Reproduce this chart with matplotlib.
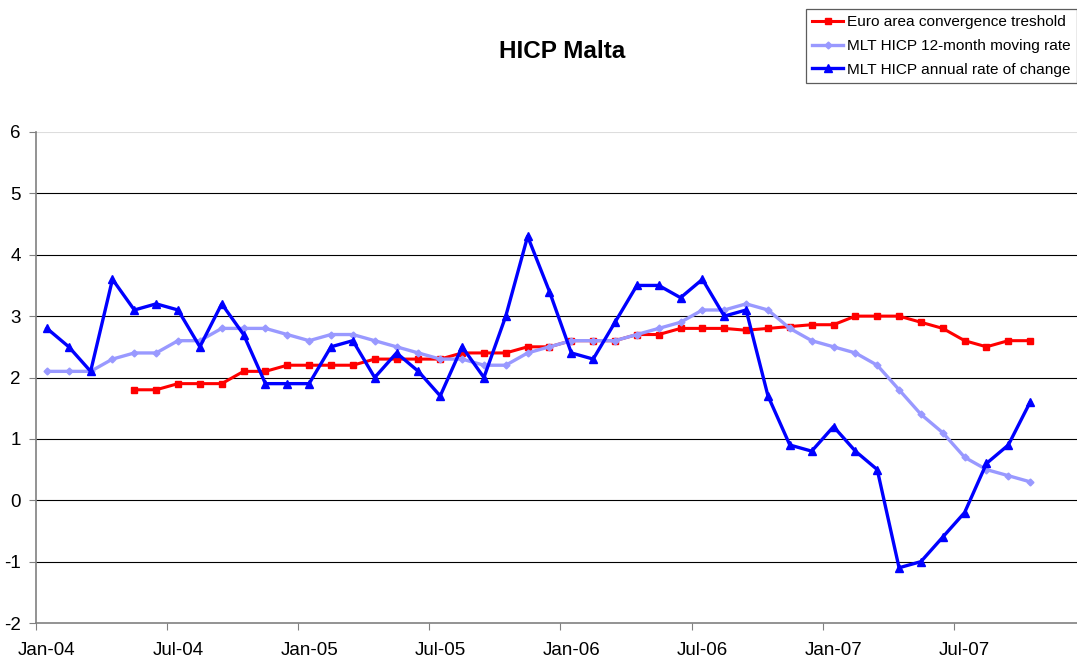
import matplotlib
matplotlib.use("Agg")
import matplotlib.pyplot as plt
import numpy as np

plt.rcParams['font.family'] = ['Liberation Sans', 'DejaVu Sans']

# Monthly data Jan-04 .. Oct-07 (46 months)
months = ["Jan-04", "Feb-04", "Mar-04", "Apr-04", "May-04", "Jun-04", "Jul-04", "Aug-04", "Sep-04", "Oct-04", "Nov-04", "Dec-04",
          "Jan-05", "Feb-05", "Mar-05", "Apr-05", "May-05", "Jun-05", "Jul-05", "Aug-05", "Sep-05", "Oct-05", "Nov-05", "Dec-05",
          "Jan-06", "Feb-06", "Mar-06", "Apr-06", "May-06", "Jun-06", "Jul-06", "Aug-06", "Sep-06", "Oct-06", "Nov-06", "Dec-06",
          "Jan-07", "Feb-07", "Mar-07", "Apr-07", "May-07", "Jun-07", "Jul-07", "Aug-07", "Sep-07", "Oct-07"]

threshold = [None, None, None, None, 1.8, 1.8, 1.9, 1.9, 1.9, 2.1, 2.1, 2.2,
             2.2, 2.2, 2.2, 2.3, 2.3, 2.3, 2.3, 2.4, 2.4, 2.4, 2.5, 2.5,
             2.6, 2.6, 2.6, 2.7, 2.7, 2.8, 2.8, 2.8, 2.77, 2.8, 2.83, 2.86,
             2.86, 3.0, 3.0, 3.0, 2.9, 2.8, 2.6, 2.5, 2.6, 2.6]

moving_rate = [2.1, 2.1, 2.1, 2.3, 2.4, 2.4, 2.6, 2.6, 2.8, 2.8, 2.8, 2.7,
               2.6, 2.7, 2.7, 2.6, 2.5, 2.4, 2.3, 2.3, 2.2, 2.2, 2.4, 2.5,
               2.6, 2.6, 2.6, 2.7, 2.8, 2.9, 3.1, 3.1, 3.2, 3.1, 2.8, 2.6,
               2.5, 2.4, 2.2, 1.8, 1.4, 1.1, 0.7, 0.5, 0.4, 0.3]

annual_rate = [2.8, 2.5, 2.1, 3.6, 3.1, 3.2, 3.1, 2.5, 3.2, 2.7, 1.9, 1.9,
               1.9, 2.5, 2.6, 2.0, 2.4, 2.1, 1.7, 2.5, 2.0, 3.0, 4.3, 3.4,
               2.4, 2.3, 2.9, 3.5, 3.5, 3.3, 3.6, 3.0, 3.1, 1.7, 0.9, 0.8,
               1.2, 0.8, 0.5, -1.1, -1.0, -0.6, -0.2, 0.6, 0.9, 1.6]

tick_labels = ["Jan-04", "Jul-04", "Jan-05", "Jul-05", "Jan-06", "Jul-06", "Jan-07", "Jul-07"]

n_bins = 48
x = np.arange(len(months))
thr = np.array([np.nan if v is None else v for v in threshold], dtype=float)

W, H = 1077, 662
fig = plt.figure(figsize=(W / 100, H / 100), dpi=100)
left, right, top, bottom = 36, 36 + 48 * 21.85, 132, 623
ax = fig.add_axes([left / W, 1 - bottom / H, (right - left) / W, (bottom - top) / H])

ax.set_xlim(-0.5, n_bins - 0.5)
ax.set_ylim(-2, 6)

for yv in range(-1, 6):
    ax.axhline(yv, color='black', lw=0.8, zorder=1)
ax.axhline(6, color='#dddddd', lw=0.8, zorder=1)

ax.plot(x, thr, color='#ff0000', lw=2.2, marker='s', ms=5, mec='#ff0000', mfc='#ff0000',
        label='Euro area convergence treshold', zorder=3)
ax.plot(x, moving_rate, color='#9999ff', lw=2.4, marker='D', ms=3.5, mec='#9999ff', mfc='#9999ff',
        label='MLT HICP 12-month moving rate', zorder=4)
ax.plot(x, annual_rate, color='#0000ff', lw=2.4, marker='^', ms=5.5, mec='#0000ff', mfc='#0000ff',
        label='MLT HICP annual rate of change', zorder=5)

for s in ['top', 'right']:
    ax.spines[s].set_visible(False)
for s in ['left', 'bottom']:
    ax.spines[s].set_color('#808080')
    ax.spines[s].set_linewidth(1.2)

# major ticks at bin boundaries (every 6 months), labels at bin centres
ax.set_xticks(np.arange(-0.5, n_bins, 6))
ax.set_xticklabels([])
ax.tick_params(axis='x', which='major', length=5, color='#808080', direction='out')
ax.set_xticks(np.arange(0, 48, 6), minor=True)
ax.set_xticklabels(tick_labels, minor=True)
ax.tick_params(axis='x', which='minor', length=0, pad=14, labelsize=13.5)

ax.set_yticks(range(-2, 7))
ax.set_yticklabels([str(v) for v in range(-2, 7)])
ax.tick_params(axis='y', length=5, color='#808080', pad=6, labelsize=13.5)

fig.text(562 / W, 1 - 51 / H, 'HICP Malta', ha='center', va='center', fontsize=17.5, fontweight='bold')

leg = fig.legend(loc='upper right', bbox_to_anchor=(1077 / W, 1 - 9 / H), frameon=True, fancybox=False,
                 edgecolor='#333333', fontsize=11.1, handlelength=2.0, handletextpad=0.25,
                 borderpad=0.42, labelspacing=0.62, borderaxespad=0)
leg.get_frame().set_linewidth(0.9)

fig.savefig('out.png', dpi=100)
